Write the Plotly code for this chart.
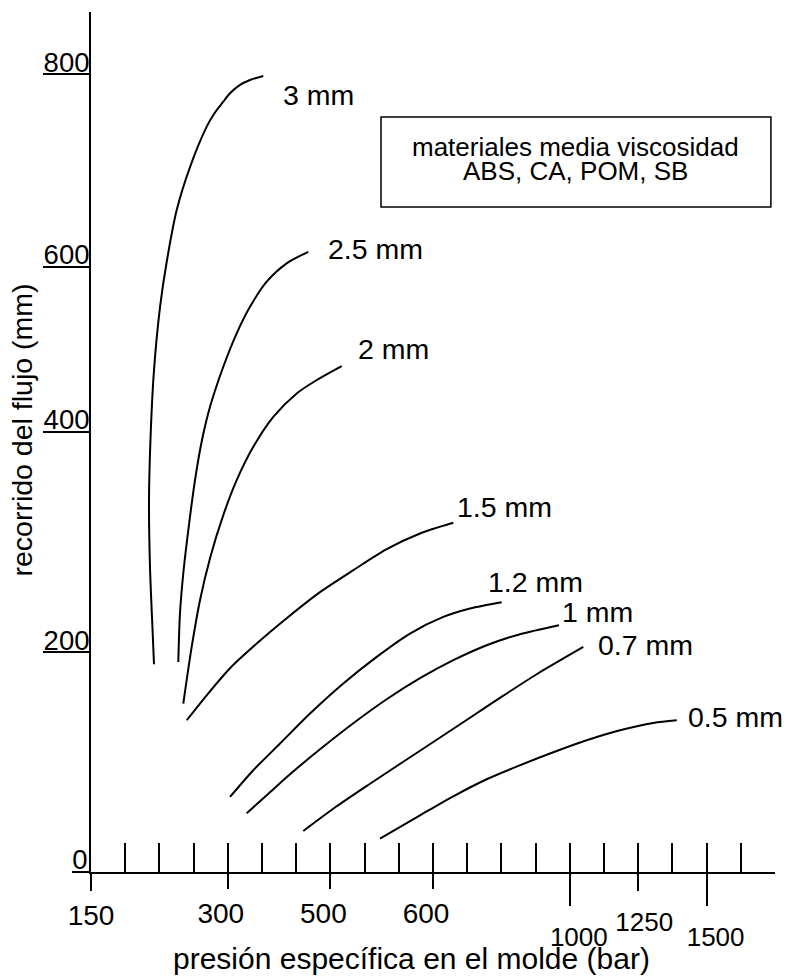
import plotly.graph_objects as go

# ---------------- data (axis units: x = pressure-scale divisions 0..20, y = drawn flow-path units) -------------
x_3mm = [1.842, 1.804, 1.725, 1.696, 1.746, 1.842, 2.018, 2.213, 2.506, 2.895, 3.383, 3.576, 3.868, 4.064, 4.357, 4.649, 5.038]
y_3mm = [188.8, 217.0, 277.0, 337.9, 398.8, 456.1, 513.4, 554.3, 601.5, 640.6, 677.3, 687.9, 700.0, 707.6, 715.2, 719.7, 723.4]

x_25mm = [2.553, 2.602, 2.699, 2.845, 3.041, 3.246, 3.480, 3.868, 4.260, 4.649, 5.137, 5.722, 6.354]
y_25mm = [190.9, 235.2, 271.5, 310.6, 356.1, 392.5, 422.7, 459.1, 489.5, 513.6, 536.4, 553.1, 563.6]

x_2mm = [2.699, 2.944, 3.187, 3.480, 3.868, 4.260, 4.746, 5.330, 6.015, 6.599, 7.330]
y_2mm = [153.1, 204.5, 247.0, 285.2, 324.3, 356.1, 386.4, 413.6, 434.9, 447.0, 459.7]

x_15mm = [2.798, 3.383, 4.064, 4.845, 5.722, 6.696, 7.670, 8.646, 9.620, 10.594]
y_15mm = [137.9, 160.6, 185.2, 207.6, 230.6, 254.3, 274.3, 293.4, 307.6, 317.3]

x_12mm = [4.064, 4.746, 5.526, 6.404, 7.377, 8.354, 9.327, 10.301, 11.082, 12.009]
y_12mm = [68.2, 92.5, 116.7, 144.0, 171.3, 195.5, 216.7, 231.8, 239.5, 245.2]

x_1mm = [4.553, 5.137, 5.819, 6.696, 7.670, 8.646, 9.620, 10.594, 11.570, 12.544, 13.684]
y_1mm = [53.4, 69.7, 88.8, 111.5, 135.2, 157.0, 176.1, 192.5, 206.1, 216.1, 224.3]

x_07mm = [6.208, 7.184, 8.158, 9.132, 10.108, 11.082, 12.056, 13.032, 14.395]
y_07mm = [37.3, 59.7, 80.2, 100.2, 120.2, 140.2, 160.2, 179.7, 204.5]

x_05mm = [8.450, 9.620, 10.594, 11.570, 12.544, 13.518, 14.494, 15.468, 16.442, 17.126]
y_05mm = [30.4, 51.5, 68.8, 84.3, 97.0, 108.8, 119.7, 128.8, 135.5, 137.9]

curve_names = ["3 mm", "2.5 mm", "2 mm", "1.5 mm", "1.2 mm", "1 mm", "0.7 mm", "0.5 mm"]
curve_x = [x_3mm, x_25mm, x_2mm, x_15mm, x_12mm, x_1mm, x_07mm, x_05mm]
curve_y = [y_3mm, y_25mm, y_2mm, y_15mm, y_12mm, y_1mm, y_07mm, y_05mm]

# x scale: 20 divisions, labelled at some of them
x_divisions = list(range(0, 21))
x_lab_main_pos = [4, 7, 10]
x_lab_main_txt = ["300", "500", "600"]
x_lab_origin_pos = [0]
x_lab_origin_txt = ["150"]
x_lab_low_pos = [14, 18]
x_lab_low_txt = ["1000", "1500"]
x_lab_high_pos = [16]
x_lab_high_txt = ["1250"]

# y scale
y_tick_pos = [200, 400, 550, 725]
y_tick_txt = ["200", "400", "600", "800"]
y_zero_pos = [0]
y_zero_txt = ["0"]

box_lines = ["materiales media viscosidad", "ABS, CA, POM, SB"]
x_title = "presión específica en el molde (bar)"
y_title = "recorrido del flujo (mm)"

# ---------------- layout constants -------------
FONT = "Liberation Sans, Arial, Helvetica, sans-serif"
INK = "#000000"
X_RANGE = [0, 20]
Y_RANGE = [0, 781.5]

label_anchor = {  # left-middle anchor of each curve label, axis units
    "3 mm": (5.55, 706.1), "2.5 mm": (6.87, 566.1), "2 mm": (7.75, 475.2),
    "1.5 mm": (10.63, 331.5), "1.2 mm": (11.55, 263.4), "1 mm": (13.70, 236.1),
    "0.7 mm": (14.77, 206.1), "0.5 mm": (17.40, 140.6),
}

fig = go.Figure()

for name, xs, ys in zip(curve_names, curve_x, curve_y):
    fig.add_trace(go.Scatter(
        x=xs, y=ys, mode="lines", name=name,
        line=dict(color=INK, width=2, shape="spline", smoothing=0.8),
        hoverinfo="skip", showlegend=False,
    ))

# dummy traces so that the overlay axes exist
for xa, ya in [("x2", "y"), ("x3", "y"), ("x4", "y"), ("x5", "y"), ("x", "y2")]:
    fig.add_trace(go.Scatter(x=[None], y=[None], xaxis=xa, yaxis=ya,
                             mode="markers", showlegend=False, hoverinfo="skip"))

common_x = dict(range=X_RANGE, showgrid=False, zeroline=False, fixedrange=True,
                automargin=False, tickcolor=INK, tickwidth=2)

fig.update_layout(
    width=790, height=979,
    margin=dict(l=91, r=15, t=12, b=107),
    paper_bgcolor="white", plot_bgcolor="white",
    font=dict(family=FONT, color=INK),
    xaxis=dict(**common_x, showline=True, linecolor=INK, linewidth=2,
               tickmode="array", tickvals=x_divisions, ticks="inside", ticklen=29,
               showticklabels=False),
    xaxis2=dict(**common_x, overlaying="x", anchor="y", side="bottom", showline=False,
                tickmode="array", tickvals=x_lab_main_pos, ticktext=x_lab_main_txt,
                ticks="outside", ticklen=16, ticklabelshift=-7,
                tickfont=dict(family=FONT, size=28, color=INK)),
    xaxis3=dict(**common_x, overlaying="x", anchor="y", side="bottom", showline=False,
                tickmode="array", tickvals=x_lab_origin_pos, ticktext=x_lab_origin_txt,
                ticks="outside", ticklen=18,
                tickfont=dict(family=FONT, size=28, color=INK)),
    xaxis4=dict(**common_x, overlaying="x", anchor="y", side="bottom", showline=False,
                tickmode="array", tickvals=x_lab_low_pos, ticktext=x_lab_low_txt,
                ticks="outside", ticklen=33, ticklabelshift=9, ticklabelstandoff=9,
                tickfont=dict(family=FONT, size=26, color=INK)),
    xaxis5=dict(**common_x, overlaying="x", anchor="y", side="bottom", showline=False,
                tickmode="array", tickvals=x_lab_high_pos, ticktext=x_lab_high_txt,
                ticks="outside", ticklen=18, ticklabelshift=6, ticklabelstandoff=9,
                tickfont=dict(family=FONT, size=26, color=INK)),
    yaxis=dict(range=Y_RANGE, showgrid=False, zeroline=False, fixedrange=True, automargin=False,
               showline=True, linecolor=INK, linewidth=2,
               tickmode="array", tickvals=y_tick_pos, ticktext=y_tick_txt,
               ticks="outside", ticklen=46, tickwidth=2, tickcolor=INK,
               ticklabelstandoff=-52, ticklabelshift=-12,
               tickfont=dict(family=FONT, size=27.5, color=INK)),
    yaxis2=dict(range=Y_RANGE, overlaying="y", anchor="x", side="left", showgrid=False,
                zeroline=False, fixedrange=True, automargin=False, showline=False,
                tickmode="array", tickvals=y_zero_pos, ticktext=y_zero_txt,
                ticks="outside", ticklen=18, tickwidth=2, tickcolor=INK,
                ticklabelstandoff=-21, ticklabelshift=-13,
                tickfont=dict(family=FONT, size=27.5, color=INK)),
)

# curve labels
for name in curve_names:
    ax, ay = label_anchor[name]
    fig.add_annotation(x=ax, y=ay, xref="x", yref="y", text=name, showarrow=False,
                       xanchor="left", yanchor="middle",
                       font=dict(family=FONT, size=28.5, color=INK))

# materials box
fig.add_shape(type="rect", xref="x", yref="y", x0=8.48, x1=19.88, y0=604.3, y1=686.1,
              line=dict(color=INK, width=1.5), fillcolor="white", layer="below")
for txt, yy in zip(box_lines, [659.1, 637.3]):
    fig.add_annotation(x=14.18, y=yy, xref="x", yref="y", text=txt, showarrow=False,
                       xanchor="center", yanchor="middle",
                       font=dict(family=FONT, size=26, color=INK))

# axis titles
fig.add_annotation(x=0.4686, y=-0.1, xref="paper", yref="paper", text=x_title,
                   showarrow=False, xanchor="center", yanchor="middle",
                   font=dict(family=FONT, size=30, color=INK))
fig.add_annotation(x=-0.1015, y=0.514, xref="paper", yref="paper", text=y_title,
                   showarrow=False, textangle=-90, xanchor="center", yanchor="middle",
                   font=dict(family=FONT, size=28.5, color=INK))

fig.write_html("out.html", config={"displayModeBar": False},
               post_script="document.body.style.margin='0px';")
